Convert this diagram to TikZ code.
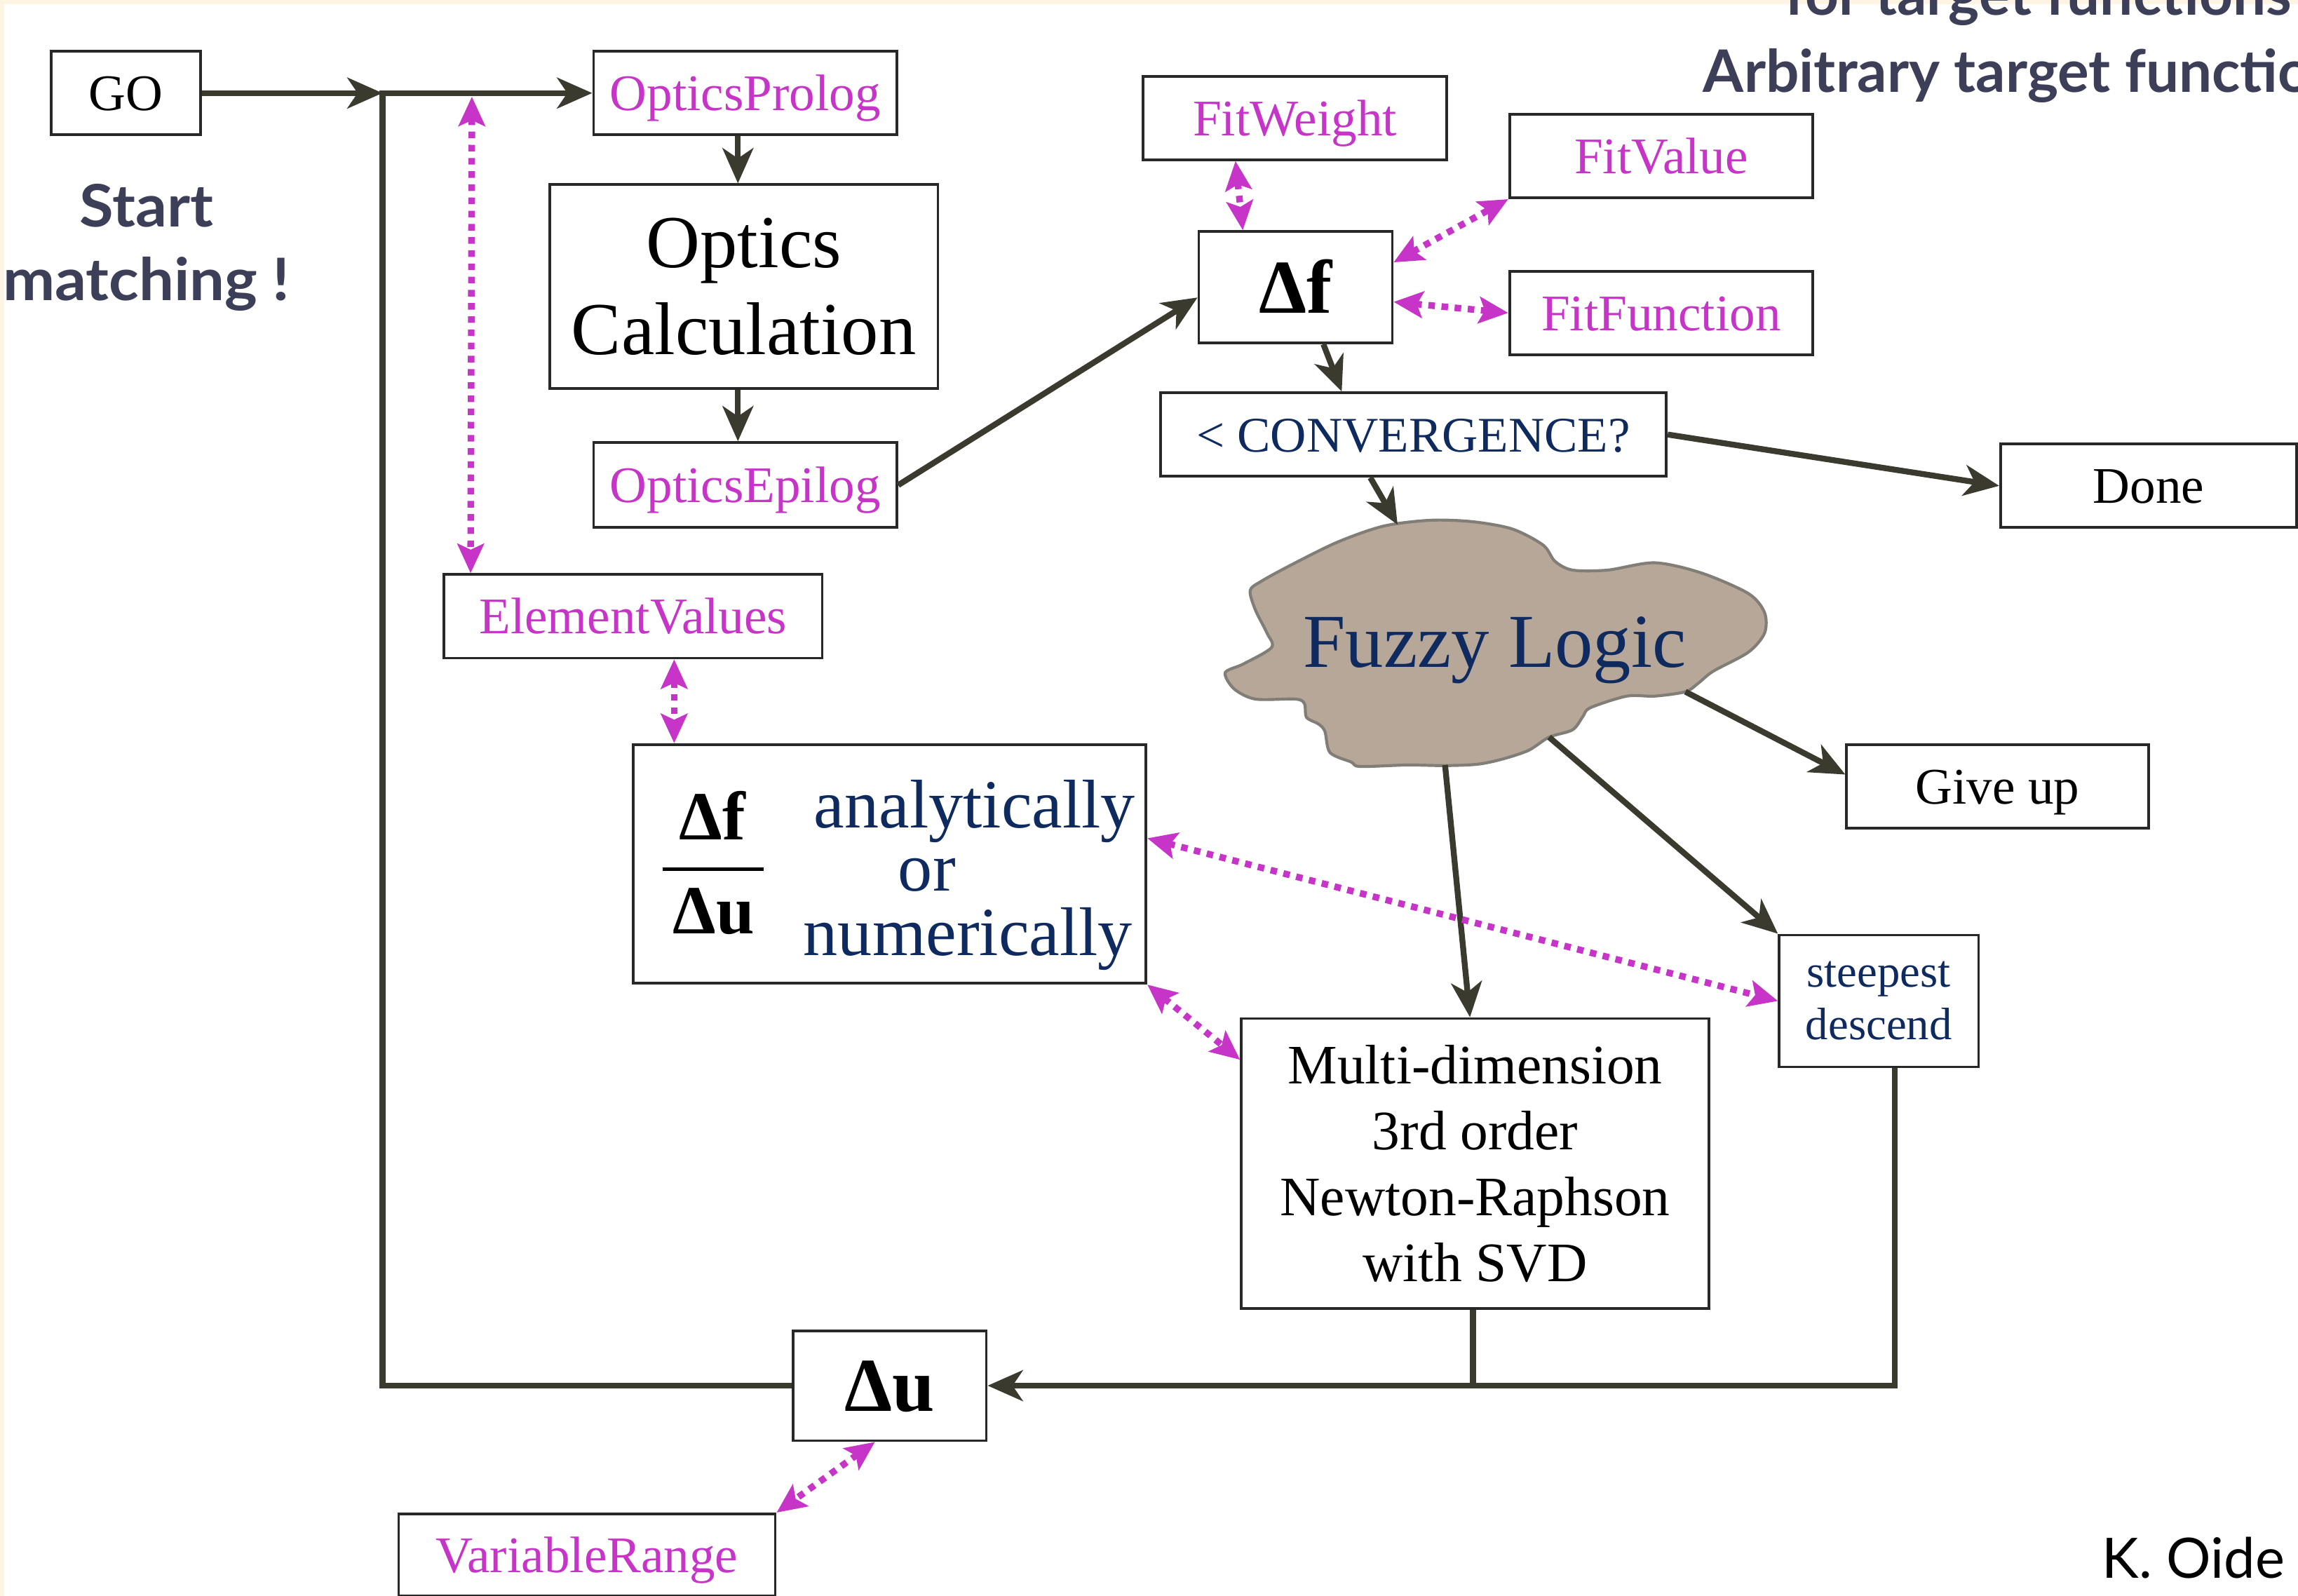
\documentclass[tikz,border=0pt]{standalone}
\usepackage{fontspec}
\setmainfont{Liberation Serif}
\newfontfamily\titlefont{Lato}[FakeStretch=1.06]
\newfontfamily\headfont{Lato}
\newfontfamily\authorfont{Lato}
\usetikzlibrary{arrows.meta}
\definecolor{linec}{RGB}{58,58,46}
\definecolor{mag}{RGB}{198,52,200}
\definecolor{navy}{RGB}{14,42,94}
\definecolor{titlec}{RGB}{61,63,88}
\definecolor{cream}{RGB}{253,244,228}
\definecolor{cloudfill}{RGB}{182,167,153}
\definecolor{cloudline}{RGB}{128,126,118}
\definecolor{boxc}{RGB}{40,40,40}
\newcommand\setfs[2]{\fontsize{#1}{#2}\selectfont}
\tikzset{
  box/.style={draw=boxc, line width=1.8pt, fill=white, inner sep=0pt, align=center},
  flow/.style={color=linec, line width=4pt, -{Stealth[length=24pt,width=21pt,inset=7pt]}},
  flowline/.style={color=linec, line width=4pt},
  magdot/.style={color=mag, line width=4.5pt, dash pattern=on 4.5pt off 4.5pt,
    {Stealth[length=20pt,width=18pt,inset=4pt]}-{Stealth[length=20pt,width=18pt,inset=4pt]}},
  small/.style={font=\setfs{35}{41}, text height=24pt, text depth=0pt},
  ttl/.style={font=\titlefont\bfseries\setfs{40}{48}, text=titlec, inner sep=0pt},
  hdl/.style={font=\headfont\bfseries\setfs{40}{48}, text=titlec, inner sep=0pt},
}
\begin{document}
\begin{tikzpicture}[x=1pt,y=-1pt]
\useasboundingbox (0,0) rectangle (1568,1089);
\clip (0,0) rectangle (1568,1089);
\fill[cream] (0,0) rectangle (1568,1089);
\fill[white] (3,3) rectangle (1568,1089);

% titles
\node[hdl, anchor=base west] (t1) at (1218,10.5) {for target functions};
\node[hdl, anchor=base west] (t2) at (1162,63) {Arbitrary target functions};
\node[ttl, anchor=base] (s1) at (100,155) {Start};
\node[ttl, anchor=base] (s2) at (100,205) {matching !};
\node[font=\authorfont\setfs{38}{44}, inner sep=0pt, anchor=base east] (ko) at (1559,1077) {K. Oide};

% cloud
\filldraw[fill=cloudfill, draw=cloudline, line width=2pt] plot[smooth cycle, tension=0.5] coordinates {
(944,359) (976,355) (1005,356) (1032,361) (1053,372) (1061,383) (1073,389) (1097,389)
(1129,384) (1161,391) (1193,405) (1204,418) (1204,432) (1193,445) (1169,458) (1159,466)
(1150,472) (1129,475) (1110,475) (1085,483) (1080,489) (1073,498) (1057,503) (1043,512)
(1025,518) (1008,521.5) (985.6,522.4) (960,522) (928,523) (922,520) (907.5,513.5) (904,499)
(899.6,494) (891.5,489.5) (890,480) (883.6,477) (856.5,477) (842,470) (836,459) (848.5,453)
(867.6,441.8) (864.5,432) (856.5,416) (853,403) (860,397) (880,386) (912.4,370)};
\node[text=navy, font=\setfs{52}{60}, inner sep=0pt, anchor=base west] (FL) at (889,455.5) {Fuzzy Logic};
\coordinate (CLtop) at (953.6,358);
\coordinate (CLgu) at (1150,472);
\coordinate (CLsd) at (1057,503);
\coordinate (CLmd) at (986,522);

% boxes
\node[box, small, minimum width=102pt, minimum height=57pt] (GO) at (86,63.5) {GO};
\node[box, small, text=mag, minimum width=207pt, minimum height=57pt] (OP) at (508.5,63.5) {OpticsProlog};
\node[box, font=\setfs{51}{59}, minimum width=265pt, minimum height=139pt] (OC) at (507.5,195.5) {Optics\\Calculation};
\node[box, small, text=mag, minimum width=207pt, minimum height=58pt] (OE) at (508.5,331) {OpticsEpilog};
\node[box, small, text=mag, minimum width=258pt, minimum height=57pt] (EV) at (432,420.5) {ElementValues};
\node[box, minimum width=350pt, minimum height=163pt] (FR) at (607,589.5) {};
\node[box, font=\setfs{52}{60}\bfseries, text height=35pt, text depth=0pt, minimum width=132pt, minimum height=75pt] (DU) at (607,945.5) {Δu};
\node[box, small, text=mag, minimum width=257pt, minimum height=56pt] (VR) at (400.5,1061) {VariableRange};
\node[box, small, text=mag, minimum width=207pt, minimum height=57pt] (FW) at (883.5,80.5) {FitWeight};
\node[box, small, text=mag, minimum width=207pt, minimum height=57pt] (FV) at (1133.5,106.5) {FitValue};
\node[box, small, text=mag, minimum width=207pt, minimum height=57pt] (FF) at (1133.5,213.5) {FitFunction};
\node[box, font=\setfs{52}{60}\bfseries, text height=35pt, text depth=0pt, minimum width=132pt, minimum height=76pt] (DF) at (884,196) {Δf};
\node[box, small, font=\setfs{34}{40}, text=navy, minimum width=345pt, minimum height=57pt] (CV) at (964.5,296.5) {< CONVERGENCE?};
\node[box, small, minimum width=202pt, minimum height=57pt] (DONE) at (1466,331.5) {Done};
\node[box, small, minimum width=206pt, minimum height=57pt] (GU) at (1363,536.5) {Give up};
\node[box, font=\setfs{31}{36}, text=navy, minimum width=136pt, minimum height=90pt] (SD) at (1282,683) {steepest\\descend};
\node[box, font=\setfs{38}{45}, minimum width=319pt, minimum height=198pt] (MD) at (1006.5,794) {Multi-dimension\\3rd order\\Newton-Raphson\\with SVD};

% contents of the derivative box
\node[font=\setfs{47}{54}\bfseries, inner sep=0pt, anchor=base] (fn) at (486,573) {Δf};
\node[font=\setfs{47}{54}\bfseries, inner sep=0pt, anchor=base] (fd) at (487,637) {Δu};
\draw[line width=2.2pt] (452,593) -- (521,593);
\node[font=\setfs{47}{54}, text=navy, inner sep=0pt, anchor=base] (w1) at (665,565) {analytically};
\node[font=\setfs{47}{54}, text=navy, inner sep=0pt, anchor=base] (w2) at (632.5,608) {or};
\node[font=\setfs{47}{54}, text=navy, inner sep=0pt, anchor=base] (w3) at (660.5,652) {numerically};

% flow connectors
\coordinate (J) at (261,63.5);
\draw[flow] (GO.east) -- (J);
\draw[flow] (DU.west) -| (J) -- (OP.west);
\draw[flow] ([xshift=-5pt]OP.south) -- ([xshift=-4pt]OC.north);
\draw[flow] ([xshift=-4pt]OC.south) -- ([xshift=-5pt]OE.north);
\draw[flow] (OE.east) -- ([yshift=-7pt]DF.west);
\draw[flow] ([xshift=19pt]DF.south) -- ([xshift=-49pt]CV.north);
\draw[flow] (CV.east) -- (DONE.west);
\draw[flow] ([xshift=-29.5pt]CV.south) -- (CLtop);
\draw[flow] (CLgu) -- ([yshift=8pt]GU.west);
\draw[flow] (CLsd) -- (SD.north west);
\draw[flow] (CLmd) -- ([xshift=-3.5pt]MD.north);
\draw[flowline] ([xshift=-1.5pt]MD.south) -- ([xshift=-1.5pt]MD.south |- DU.east);
\draw[flow] ([xshift=11pt]SD.south) |- (DU.east);

% magenta links
\coordinate (Vtop) at (322,66);
\draw[magdot] (Vtop) -- ([xshift=19pt]EV.north west);
\draw[magdot] ([xshift=-40.5pt]FW.south) -- ([xshift=-36pt]DF.north);
\draw[magdot] ([yshift=17pt]DF.east) -- (FV.south west);
\draw[magdot] ([yshift=-10pt]DF.east) -- (FF.west);
\draw[magdot] ([xshift=28pt]EV.south) -- ([xshift=28pt]EV.south |- FR.north);
\draw[magdot] ([yshift=17.5pt]FR.east) -- (SD.west);
\draw[magdot] (FR.south east) -- ([yshift=-29pt]MD.north west);
\draw[magdot] ([xshift=-10pt]DU.south) -- (VR.north east);
\end{tikzpicture}
\end{document}
